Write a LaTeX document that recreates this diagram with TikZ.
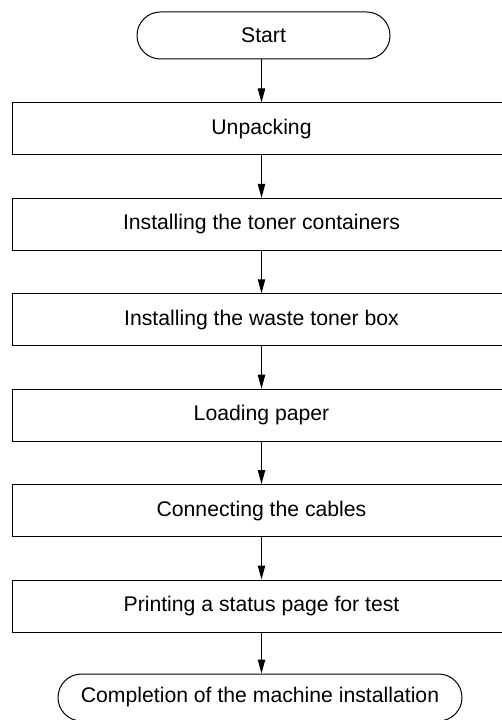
\documentclass[tikz,border=0pt]{standalone}
\usepackage{fontspec}
\setmainfont{Liberation Sans}
\usetikzlibrary{arrows.meta}

\tikzset{every picture/.style={line width=0.75pt}}
\tikzset{
  stepbox/.style={draw, minimum width=374.25pt, minimum height=39pt, inner sep=0pt},
  termbox/.style={draw, rounded corners=17.6pt, minimum height=35.25pt, inner sep=0pt},
  flowarrow/.style={-{Triangle[length=10.5pt,width=5.5pt]}}
}

\begin{document}
\begin{tikzpicture}[x=0.75pt,y=0.75pt,yscale=-1,xscale=1,font=\fontsize{15.9}{18}\selectfont]
\useasboundingbox (0,0) rectangle (502,720);

% Terminal
\node [termbox, minimum width=189.75pt] (start) at (263.5,35.5) {Start};
% Steps
\node [stepbox] (unpack) at (261.5,129) {Unpacking};
\node [stepbox] (toner) at (261.5,224.4) {Installing the toner containers};
\node [stepbox] (waste) at (261.5,319.8) {Installing the waste toner box};
\node [stepbox] (paper) at (261.5,415.2) {Loading paper};
\node [stepbox] (cables) at (261.5,510.6) {Connecting the cables};
\node [stepbox] (status) at (261.5,606) {Printing a status page for test};
% Terminal
\node [termbox, minimum width=303pt] (finish) at (260,697.5) {Completion of the machine installation};

% Arrows
\draw [flowarrow] (start.south -| unpack) -- (unpack.north);
\draw [flowarrow] (unpack) -- (toner);
\draw [flowarrow] (toner) -- (waste);
\draw [flowarrow] (waste) -- (paper);
\draw [flowarrow] (paper) -- (cables);
\draw [flowarrow] (cables) -- (status);
\draw [flowarrow] (status.south) -- (status.south |- finish.north);

\end{tikzpicture}
\end{document}
